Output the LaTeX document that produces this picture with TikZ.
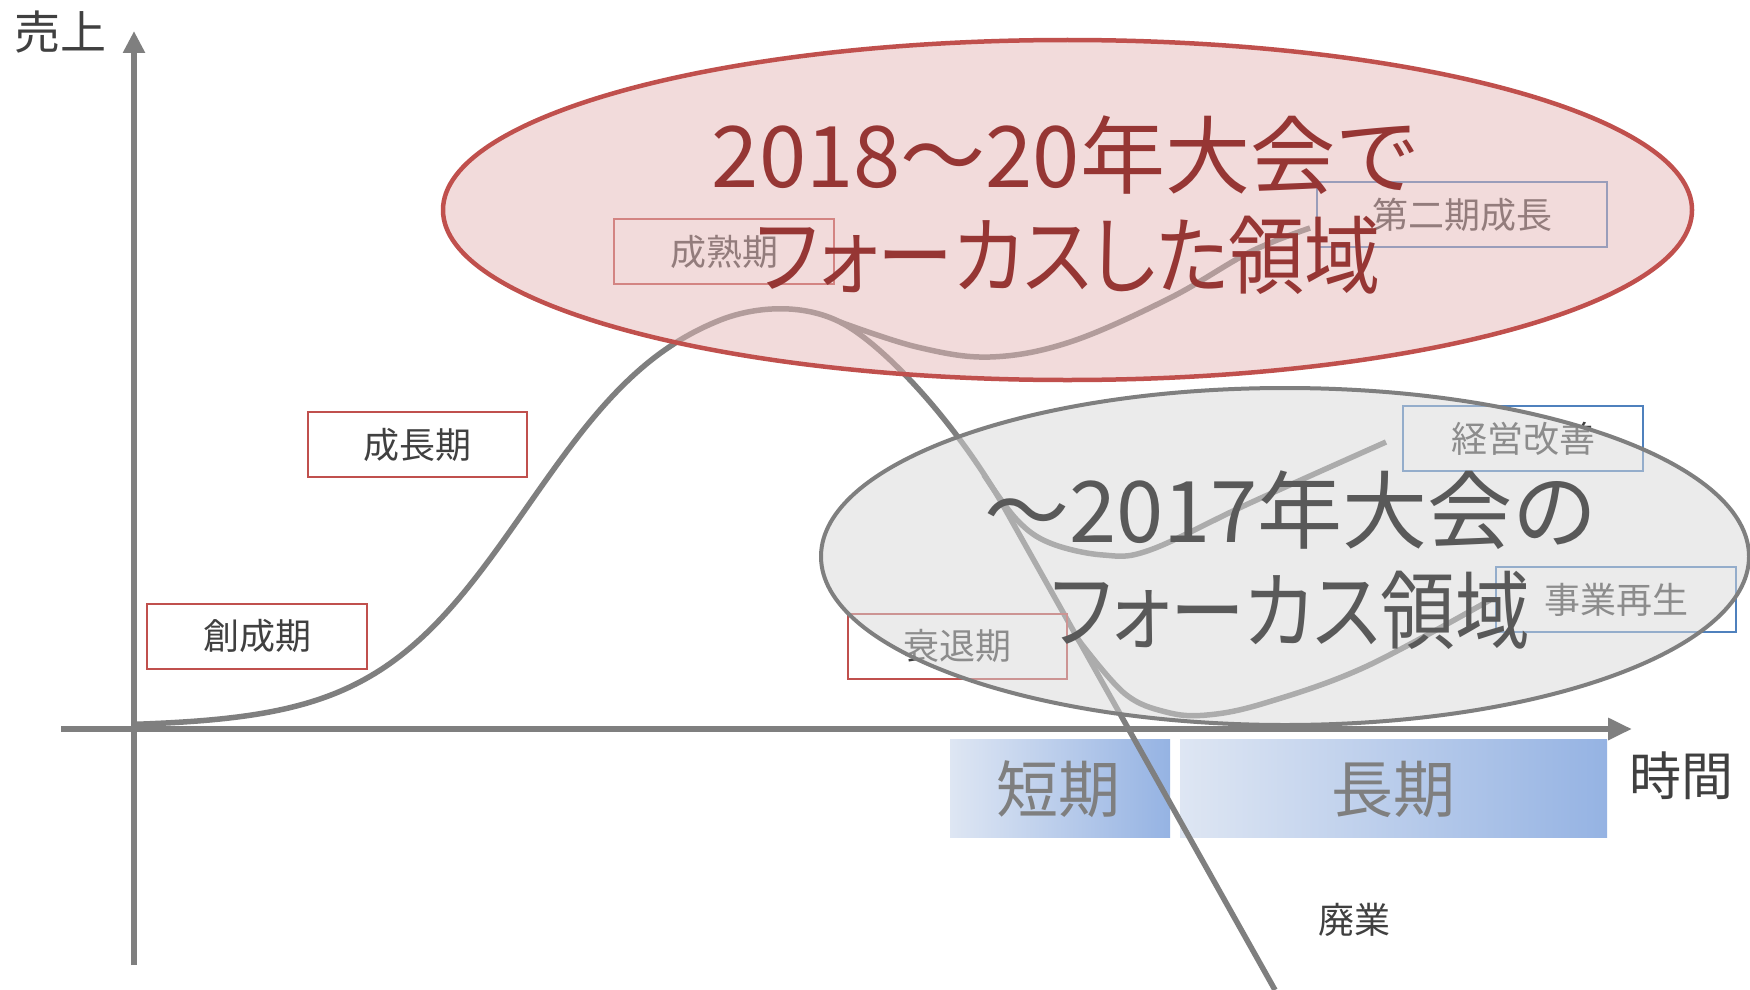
\documentclass[tikz,border=0pt]{standalone}
\usepackage{fontspec}
\setmainfont{Noto Sans CJK JP}
\newfontfamily\pfont[RawFeature=+palt]{Noto Sans CJK JP}
\usetikzlibrary{arrows.meta,shapes.geometric}
\definecolor{axgray}{RGB}{127,127,127}
\definecolor{txtdark}{RGB}{64,64,64}
\definecolor{redline}{RGB}{192,80,77}
\definecolor{redfillc}{RGB}{230,185,184}
\definecolor{redtxt}{RGB}{150,54,52}
\definecolor{grayfillc}{RGB}{217,217,217}
\definecolor{graytxt}{RGB}{89,89,89}
\definecolor{blueline}{RGB}{79,129,189}
\definecolor{gradL}{RGB}{222,230,243}
\definecolor{gradR}{RGB}{149,179,227}
\tikzset{
  lbox/.style={draw, line width=2pt, inner sep=0pt, minimum height=65pt,
    font=\fontsize{36}{40}\selectfont, text=txtdark},
  redbox/.style={lbox, draw=redline},
  bluebox/.style={lbox, draw=blueline},
  crv/.style={draw=axgray, line width=5.5pt},
  axline/.style={draw=axgray, line width=6.5pt},
  ttlone/.style={anchor=base, inner sep=0pt, font=\fontsize{85}{90}\selectfont},
  ttltwo/.style={anchor=base, inner sep=0pt, font=\pfont\fontsize{85}{90}\selectfont},
  plainlbl/.style={anchor=base, inner sep=0pt, text=txtdark},
  gradbox/.style={draw=none, inner sep=0pt, minimum height=98pt, left color=gradL, right color=gradR},
  bigell/.style={ellipse, inner sep=0pt, draw opacity=1},
}
\begin{document}
\begin{tikzpicture}[x=1pt,y=-1pt]
\useasboundingbox (0,0) rectangle (1750,990);
\fill[white] (0,0) rectangle (1750,990);

% term boxes
\node[gradbox, minimum width=220pt] (shortbox) at (1060,788) {};
\node[gradbox, minimum width=427pt] (longbox) at (1393.5,788) {};
\node[anchor=base, inner sep=0pt, text=axgray, font=\fontsize{62}{70}\selectfont] (shorttxt) at (1058,812) {短期};
\node[anchor=base, inner sep=0pt, text=axgray, font=\fontsize{62}{70}\selectfont] (longtxt) at (1393,812) {長期};

% axes
\coordinate (yax0) at (134,965);
\coordinate (yax1) at (134,31);
\coordinate (xax0) at (61,729);
\coordinate (xax1) at (1632,729);
\draw[axline, -{Triangle[length=22pt,width=21pt]}] (yax0) -- (yax1);
\draw[axline, -{Triangle[length=24pt,width=21pt]}] (xax0) -- (xax1);

% main life-cycle curve
\draw[crv] plot[domain=134:720, samples=120] (\x, {727-440/(1+exp(-(\x-527)/77))})
  .. controls (752,307.4) and (800,302) .. (840,322)
  .. controls (880,342) and (950,415) .. (1000,500)
  -- (1275,990);
% branches
\draw[crv] plot[smooth, tension=0.6] coordinates {(840,322) (917,347) (990,357) (1070,342) (1170,298) (1250,252) (1310,228)};
\draw[crv] plot[smooth, tension=0.6] coordinates {(984,475) (1017,520) (1050,543) (1103,555) (1150,550) (1250,503) (1386,442)};
\draw[crv] plot[smooth, tension=0.6] coordinates {(1077,638) (1124,693) (1166,712) (1207,715) (1265,703) (1365,667) (1490,600)};

% stage boxes
\node[redbox, minimum width=220pt] (b1) at (257,636) {創成期};
\node[redbox, minimum width=219pt] (b2) at (417.5,444.5) {成長期};
\node[redbox, minimum width=220pt] (b3) at (724,251.5) {成熟期};
\node[redbox, minimum width=219pt] (b4) at (957.5,646) {衰退期};
\node[bluebox, minimum width=290pt] (b5) at (1462,214.5) {第二期成長};
\node[bluebox, minimum width=240pt] (b6) at (1523,438.5) {経営改善};
\node[bluebox, minimum width=240pt] (b7) at (1616,599.5) {事業再生};

% focus ellipses
\node[bigell, draw=redline, line width=4.5pt, fill=redfillc, fill opacity=0.5,
  minimum width=1249pt, minimum height=340pt] (redell) at (1067.5,210) {};
\node[bigell, draw=axgray, line width=4pt, fill=grayfillc, fill opacity=0.5,
  minimum width=928pt, minimum height=337pt] (grayell) at (1285,556.5) {};

% titles
\node[ttlone, text=redtxt] (rt1) at (1066,187) {2018～20年大会で};
\node[ttltwo, text=redtxt] (rt2) at (1068,287) {\scalebox{0.895}[1]{フォーカスした領域}};
\node[ttlone, text=graytxt] (gt1) at (1291,542) {～2017年大会の};
\node[ttltwo, text=graytxt] (gt2) at (1290,642) {\scalebox{0.88}[1]{フォーカス領域}};

% axis labels
\node[plainlbl, font=\fontsize{46}{50}\selectfont] (ylbl) at (60,50) {売上};
\node[plainlbl, font=\fontsize{52}{56}\selectfont] (xlbl) at (1681,795) {時間};
\node[plainlbl, font=\fontsize{36}{40}\selectfont] (closelbl) at (1354,933) {廃業};
\end{tikzpicture}
\end{document}
